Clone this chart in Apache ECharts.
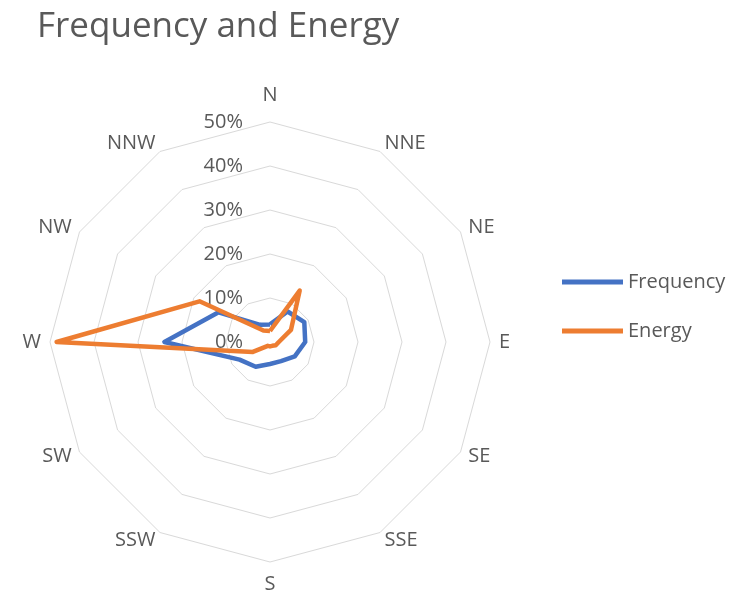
<!DOCTYPE html>
<html>
<head>
<meta charset="utf-8">
<script src="https://cdn.jsdelivr.net/npm/echarts@6/dist/echarts.min.js"></script>
<style>
html,body{margin:0;padding:0;background:#fff;}
#chart{width:745px;height:598px;}
</style>
</head>
<body>
<div id="chart"></div>
<script>
// Compass order (clockwise from N)
const directions = ['N','NNE','NE','E','SE','SSE','S','SSW','SW','W','NW','NNW'];
const frequency = [4, 8, 9, 8, 6.5, 5, 5, 6.5, 8, 24, 13.5, 4.5];
const energy    = [2.5, 13.5, 5.5, 2, 1.5, 1, 1, 1, 4.5, 48.5, 18.5, 3];
const axisMax = 50;
const axisInterval = 10;

// ECharts radar lays indicators counter-clockwise: reorder so that they appear clockwise
const order = [0].concat(directions.map((d, i) => i).slice(1).reverse());
const txt = '#595959';
const font = 'Open Sans';
const fs = 20;

const indicator = order.map((i, k) => {
  const o = { name: directions[i], min: 0, max: axisMax };
  if (k === 0) {
    o.axisLabel = { show: true };
  }
  return o;
});

const chart = echarts.init(document.getElementById('chart'), null, {renderer: 'canvas'});
chart.setOption({
  backgroundColor: '#fff',
  animation: false,
  title: {
    text: 'Frequency and Energy',
    left: 32, top: 5,
    textStyle: { color: txt, fontSize: 35, fontWeight: 'normal', fontFamily: font }
  },
  legend: {
    orient: 'vertical',
    left: 557, top: 267,
    icon: 'rect',
    itemWidth: 61, itemHeight: 5,
    itemGap: 29,
    textStyle: { color: txt, fontSize: fs, fontFamily: font },
    data: ['Frequency', 'Energy']
  },
  radar: {
    center: [270, 342],
    radius: 220,
    startAngle: 90,
    splitNumber: axisMax / axisInterval,
    shape: 'polygon',
    indicator: indicator,
    nameGap: 9,
    axisName: {
      color: txt, fontSize: fs, fontFamily: font,
      formatter: function (n) {
        if (n === 'N') return '{n|' + n + '}';
        if (n === 'S') return '{s|' + n + '}';
        return n;
      },
      rich: {
        n: { color: txt, fontSize: fs, fontFamily: font, padding: [0, 0, 8, 0] },
        s: { color: txt, fontSize: fs, fontFamily: font, padding: [3, 0, 0, 0] }
      }
    },
    axisLine: { show: false },
    axisTick: { show: false },
    axisLabel: {
      show: false,
      color: txt, fontSize: fs, fontFamily: font,
      margin: 27,
      formatter: '{value}%'
    },
    splitLine: { lineStyle: { color: '#d9d9d9', width: 1 } },
    splitArea: { show: false }
  },
  series: [{
    type: 'radar',
    symbol: 'none',
    data: [
      { name: 'Frequency', value: order.map(i => frequency[i]),
        lineStyle: { color: '#4472C4', width: 4.5, join: 'round' },
        itemStyle: { color: '#4472C4' } },
      { name: 'Energy', value: order.map(i => energy[i]),
        lineStyle: { color: '#ED7D31', width: 4.5, join: 'round' },
        itemStyle: { color: '#ED7D31' } }
    ]
  }]
});
</script>
</body>
</html>
